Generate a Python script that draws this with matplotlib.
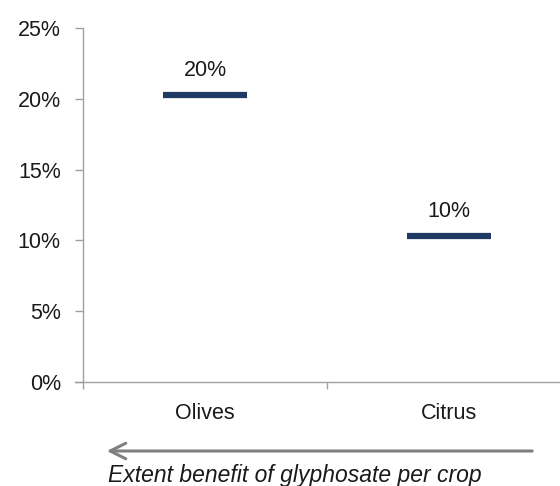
import matplotlib.pyplot as plt
from matplotlib.patches import FancyArrowPatch
from matplotlib.ticker import PercentFormatter

crops = ['Olives', 'Citrus']
benefit = [20.3, 10.3]
labels = ['20%', '10%']
yticks = [0, 5, 10, 15, 20, 25]
caption = 'Extent benefit of glyphosate per crop'

plt.rcParams['font.family'] = ['Liberation Sans', 'DejaVu Sans']

W, H = 560, 486
fig = plt.figure(figsize=(W / 100, H / 100), dpi=100)
# plot area in pixels: left spine x=83, x axis y=382, 25% at y=28
ax = fig.add_axes([83 / W, 1 - 382 / H, (W - 83) / W, (382 - 28) / H])

x = list(range(len(crops)))
ax.plot(x, benefit, ls='none', marker='_', ms=60.5, mew=4.5, color='#1F3A64', zorder=3)
for xi, v, lab in zip(x, benefit, labels):
    ax.annotate(lab, (xi, v), xytext=(0, 13.5), textcoords='offset points',
                ha='center', va='baseline', fontsize=15.5, color='#1a1a1a')

ax.set_ylim(0, 25)
ax.set_yticks(yticks)
ax.yaxis.set_major_formatter(PercentFormatter(decimals=0))
ax.set_xlim(-0.5, -0.5 + (W - 83) / 244)
ax.set_xticks(x)
ax.set_xticklabels(crops)
ax.set_xticks([-0.5, 0.5], minor=True)

for s in ['top', 'right']:
    ax.spines[s].set_visible(False)
for s in ['left', 'bottom']:
    ax.spines[s].set_color('#a0a0a0')
    ax.spines[s].set_linewidth(1)

ax.tick_params(axis='y', length=6, width=1, color='#a0a0a0', labelsize=15.5, pad=10, labelcolor='#1a1a1a')
ax.tick_params(axis='x', which='major', length=0, labelsize=15.5, pad=15, labelcolor='#1a1a1a')
ax.tick_params(axis='x', which='minor', length=5, width=1, color='#a0a0a0')
ax.spines['bottom'].set_bounds(-0.5 - 8 / 244, ax.get_xlim()[1])

# arrow + caption under the chart
fig.add_artist(FancyArrowPatch(
    (535 / W, 1 - 451 / H), (104 / W, 1 - 451 / H), transform=fig.transFigure,
    arrowstyle='->,head_length=7,head_width=3.5', color='#808080', lw=2.2, mutation_scale=1.6))
fig.text(295 / W, 1 - 482 / H, caption,
         ha='center', va='baseline', fontsize=16.5, style='italic', color='#1a1a1a')

fig.savefig('out.png', dpi=100)
